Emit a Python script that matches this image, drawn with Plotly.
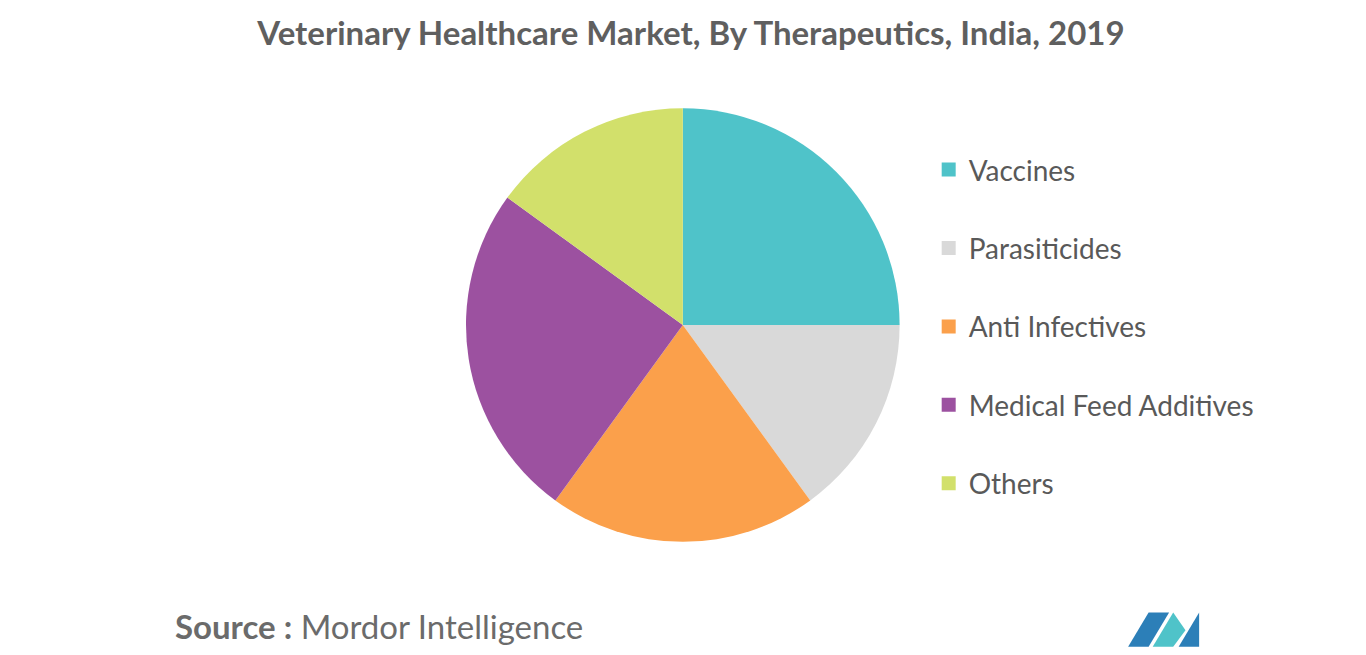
import plotly.graph_objects as go

labels = ["Vaccines", "Parasiticides", "Anti Infectives", "Medical Feed Additives", "Others"]
values = [25, 15, 20, 25, 15]
colors = ["#4FC3C9", "#D9D9D9", "#FBA04B", "#9C51A0", "#D2E06B"]

fig = go.Figure()
fig.add_trace(go.Pie(labels=labels, values=values, sort=False, direction="clockwise",
                     rotation=0, marker=dict(colors=colors), textinfo="none",
                     hoverinfo="label+percent", showlegend=False,
                     domain=dict(x=[0.335, 0.653], y=[0.185, 0.847])))

# legend entries with wide spacing
for i, (lab, col) in enumerate(zip(labels, colors)):
    fig.add_trace(go.Scatter(x=[None], y=[None], mode="markers", name=lab,
                             legendgroup=str(i),
                             marker=dict(symbol="square", size=14, color=col)))

fig.update_layout(
    width=1366, height=655, paper_bgcolor="white", plot_bgcolor="white",
    margin=dict(l=0, r=0, t=0, b=0),
    font=dict(family="Lato, Noto Sans, sans-serif", color="#595959"),
    title=dict(text="<b>Veterinary Healthcare Market, By Therapeutics, India, 2019</b>",
               x=0.5, xanchor="center", y=0.961, yanchor="middle",
               font=dict(size=33, color="#5f5f5f")),
    xaxis=dict(visible=False), yaxis=dict(visible=False),
    legend=dict(x=0.674, xanchor="left", y=0.791, yanchor="top",
                font=dict(size=28, color="#595959"), tracegroupgap=39,
                itemwidth=30),
    annotations=[dict(text="<b>Source :</b> Mordor Intelligence", x=0.121, y=0.056,
                      xref="paper", yref="paper", xanchor="left", yanchor="middle",
                      showarrow=False, font=dict(size=33, color="#6b6b6b"))],
)

# logo
fig.add_shape(type="path", path="M 0.820 0.025 L 0.835 0.077 L 0.850 0.077 L 0.835 0.025 Z",
              xref="paper", yref="paper", fillcolor="#2C7FB8", line_width=0)
fig.add_shape(type="path", path="M 0.838 0.025 L 0.853 0.077 L 0.862 0.050 L 0.853 0.025 Z",
              xref="paper", yref="paper", fillcolor="#4FC3C9", line_width=0)
fig.add_shape(type="path", path="M 0.857 0.025 L 0.872 0.077 L 0.872 0.025 Z",
              xref="paper", yref="paper", fillcolor="#2C7FB8", line_width=0)

fig.write_html("out.html")
